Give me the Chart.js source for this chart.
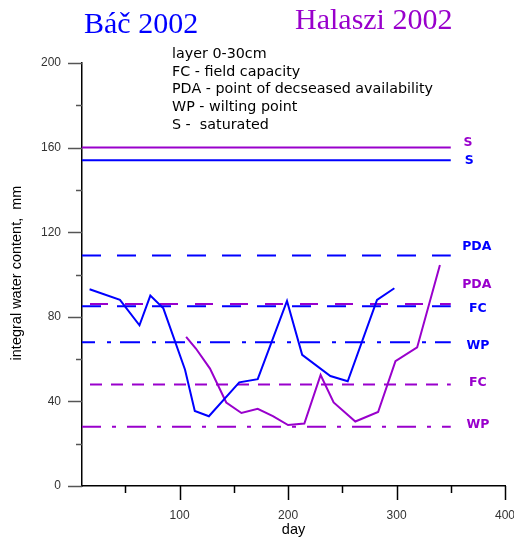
<!DOCTYPE html>
<html>
<head>
<meta charset="utf-8">
<script src="https://cdn.jsdelivr.net/npm/chart.js@4/dist/chart.umd.min.js"></script>
<style>
  html, body { margin: 0; padding: 0; background: #fff; }
  #chart { display: block; }
</style>
</head>
<body>
<canvas id="chart" width="514" height="537"></canvas>
<script>
// measured series (day, integral water content mm)
const bacDays = [17, 45, 63, 73, 85, 105, 114, 127, 155, 172, 199, 213, 239, 255, 282, 298];
const bacWater = [93, 88, 76, 90, 84, 55, 35.5, 33, 49, 50.5, 87.5, 62, 52, 49.5, 88, 93.5];

const halDays = [106, 115, 128, 143, 157, 172, 186, 200, 215, 230, 242, 262, 283, 299, 319, 340];
const halWater = [70.5, 65, 55.5, 39.5, 34.5, 36.5, 33, 28.8, 29.5, 52.5, 39.5, 30.5, 35, 59, 65.5, 104.5];

// hydrolimits S, PDA, FC, WP
const levelNames = ["S", "PDA", "FC", "WP"];
const bacLevels = [154, 109, 85, 68];
const halLevels = [160, 86, 48, 28];
const levelSpan = [10, 350];

const xTicks = [100, 200, 300, 400];
const xMinorTicks = [50, 150, 250, 350];
const yTicks = [0, 40, 80, 120, 160, 200];
const yMinorTicks = [20, 60, 100, 140, 180];

const legendLines = [
  "layer 0-30cm",
  "FC - field capacity",
  "PDA - point of decseased availability",
  "WP - wilting point",
  "S -  saturated"
];

const BLUE = "#0000ff";
const PURPLE = "#9900cc";

// [dash pattern, offset]
const bacDash = { S: [[], 0], PDA: [[19, 16], 0], FC: [[19, 16], 0], WP: [[20, 12, 4, 9], 7] };
const halDash = { S: [[], 0], PDA: [[18, 17], -8], FC: [[12, 9], 13], WP: [[19, 11, 4, 11], 0] };

// right-hand labels: [text, value, color, day]
const sideLabels = [
  ["S", 162.4, PURPLE, 366],
  ["S", 153.9, BLUE, 367],
  ["PDA", 113, BLUE, 374],
  ["PDA", 95, PURPLE, 374],
  ["FC", 83.7, BLUE, 375],
  ["WP", 66.2, BLUE, 375],
  ["FC", 48.7, PURPLE, 375],
  ["WP", 28.8, PURPLE, 375]
];

function toPoints(xs, ys) {
  return xs.map((x, i) => ({ x, y: ys[i] }));
}

function levelDataset(value, color, dash) {
  return {
    data: levelSpan.map(d => ({ x: d, y: value })),
    borderColor: color,
    borderWidth: 2,
    borderDash: dash[0],
    borderDashOffset: dash[1],
    pointRadius: 0,
    showLine: true
  };
}

const datasets = [
  {
    data: toPoints(bacDays, bacWater),
    borderColor: BLUE,
    borderWidth: 2,
    pointRadius: 0,
    showLine: true
  },
  {
    data: toPoints(halDays, halWater),
    borderColor: PURPLE,
    borderWidth: 2,
    pointRadius: 0,
    showLine: true
  }
];
levelNames.forEach((n, i) => datasets.push(levelDataset(bacLevels[i], BLUE, bacDash[n])));
levelNames.forEach((n, i) => datasets.push(levelDataset(halLevels[i], PURPLE, halDash[n])));

function noPad(s) {
  s.paddingLeft = 0;
  s.paddingRight = 0;
  s.paddingTop = 0;
  s.paddingBottom = 0;
}

const extras = {
  id: "extras",
  afterDraw(chart) {
    const ctx = chart.ctx;
    const xs = chart.scales.x;
    const ys = chart.scales.y;
    const area = chart.chartArea;
    ctx.save();

    // tick marks
    ctx.lineWidth = 1.5;
    ctx.strokeStyle = "#555";
    yTicks.forEach(v => {
      const y = Math.round(ys.getPixelForValue(v)) + 0.5;
      ctx.beginPath(); ctx.moveTo(area.left - 14, y); ctx.lineTo(area.left, y); ctx.stroke();
    });
    yMinorTicks.forEach(v => {
      const y = Math.round(ys.getPixelForValue(v)) + 0.5;
      ctx.beginPath(); ctx.moveTo(area.left - 6, y); ctx.lineTo(area.left, y); ctx.stroke();
    });
    ctx.strokeStyle = "#000";
    xTicks.forEach(v => {
      const x = Math.round(xs.getPixelForValue(v)) + 0.5;
      ctx.beginPath(); ctx.moveTo(x, area.bottom); ctx.lineTo(x, area.bottom + 14); ctx.stroke();
    });
    xMinorTicks.forEach(v => {
      const x = Math.round(xs.getPixelForValue(v)) + 0.5;
      ctx.beginPath(); ctx.moveTo(x, area.bottom); ctx.lineTo(x, area.bottom + 7); ctx.stroke();
    });

    // titles
    ctx.textBaseline = "alphabetic";
    ctx.textAlign = "left";
    ctx.font = "30px 'Liberation Serif', serif";
    ctx.fillStyle = BLUE;
    ctx.fillText("Báč 2002", 84, 33);
    ctx.fillStyle = PURPLE;
    ctx.fillText("Halaszi 2002", 295, 29);

    // explanation block
    ctx.font = "14.3px 'DejaVu Sans', sans-serif";
    ctx.fillStyle = "#000";
    ctx.textBaseline = "middle";
    legendLines.forEach((t, i) => ctx.fillText(t, 172, 54 + i * 17.8));

    // side labels
    ctx.font = "bold 12.5px 'DejaVu Sans', sans-serif";
    ctx.textAlign = "center";
    sideLabels.forEach(([t, v, c, d]) => {
      ctx.fillStyle = c;
      ctx.fillText(t, xs.getPixelForValue(d), ys.getPixelForValue(v));
    });

    // axis titles
    ctx.fillStyle = "#000";
    ctx.font = "14.5px 'Liberation Sans', Arial, sans-serif";
    ctx.fillText("day", (area.left + area.right) / 2, 530);
    ctx.translate(17, 273);
    ctx.rotate(-Math.PI / 2);
    ctx.fillText("integral water content,  mm", 0, 0);
    ctx.restore();
  }
};

new Chart(document.getElementById("chart"), {
  type: "scatter",
  data: { datasets },
  options: {
    responsive: false,
    animation: false,
    events: [],
    layout: { autoPadding: false, padding: { left: 0, top: 63, right: 9, bottom: 0 } },
    plugins: {
      legend: { display: false },
      tooltip: { enabled: false }
    },
    scales: {
      x: {
        type: "linear",
        min: 10,
        max: 400,
        afterBuildTicks: s => { s.ticks = xTicks.map(v => ({ value: v })); },
        afterFit: s => { s.height = 51; noPad(s); },
        grid: { drawOnChartArea: false, drawTicks: false },
        border: { color: "#000", width: 1.5 },
        ticks: {
          padding: 22,
          maxRotation: 0,
          color: "#333",
          font: { family: "'Liberation Sans', Arial, sans-serif", size: 12 }
        }
      },
      y: {
        type: "linear",
        min: 0,
        max: 200,
        afterBuildTicks: s => { s.ticks = yTicks.map(v => ({ value: v })); },
        afterFit: s => { s.width = 82; noPad(s); },
        grid: { drawOnChartArea: false, drawTicks: false },
        border: { color: "#000", width: 1.5 },
        ticks: {
          padding: 21,
          color: "#333",
          font: { family: "'Liberation Sans', Arial, sans-serif", size: 12 }
        }
      }
    }
  },
  plugins: [extras]
});
</script>
</body>
</html>
